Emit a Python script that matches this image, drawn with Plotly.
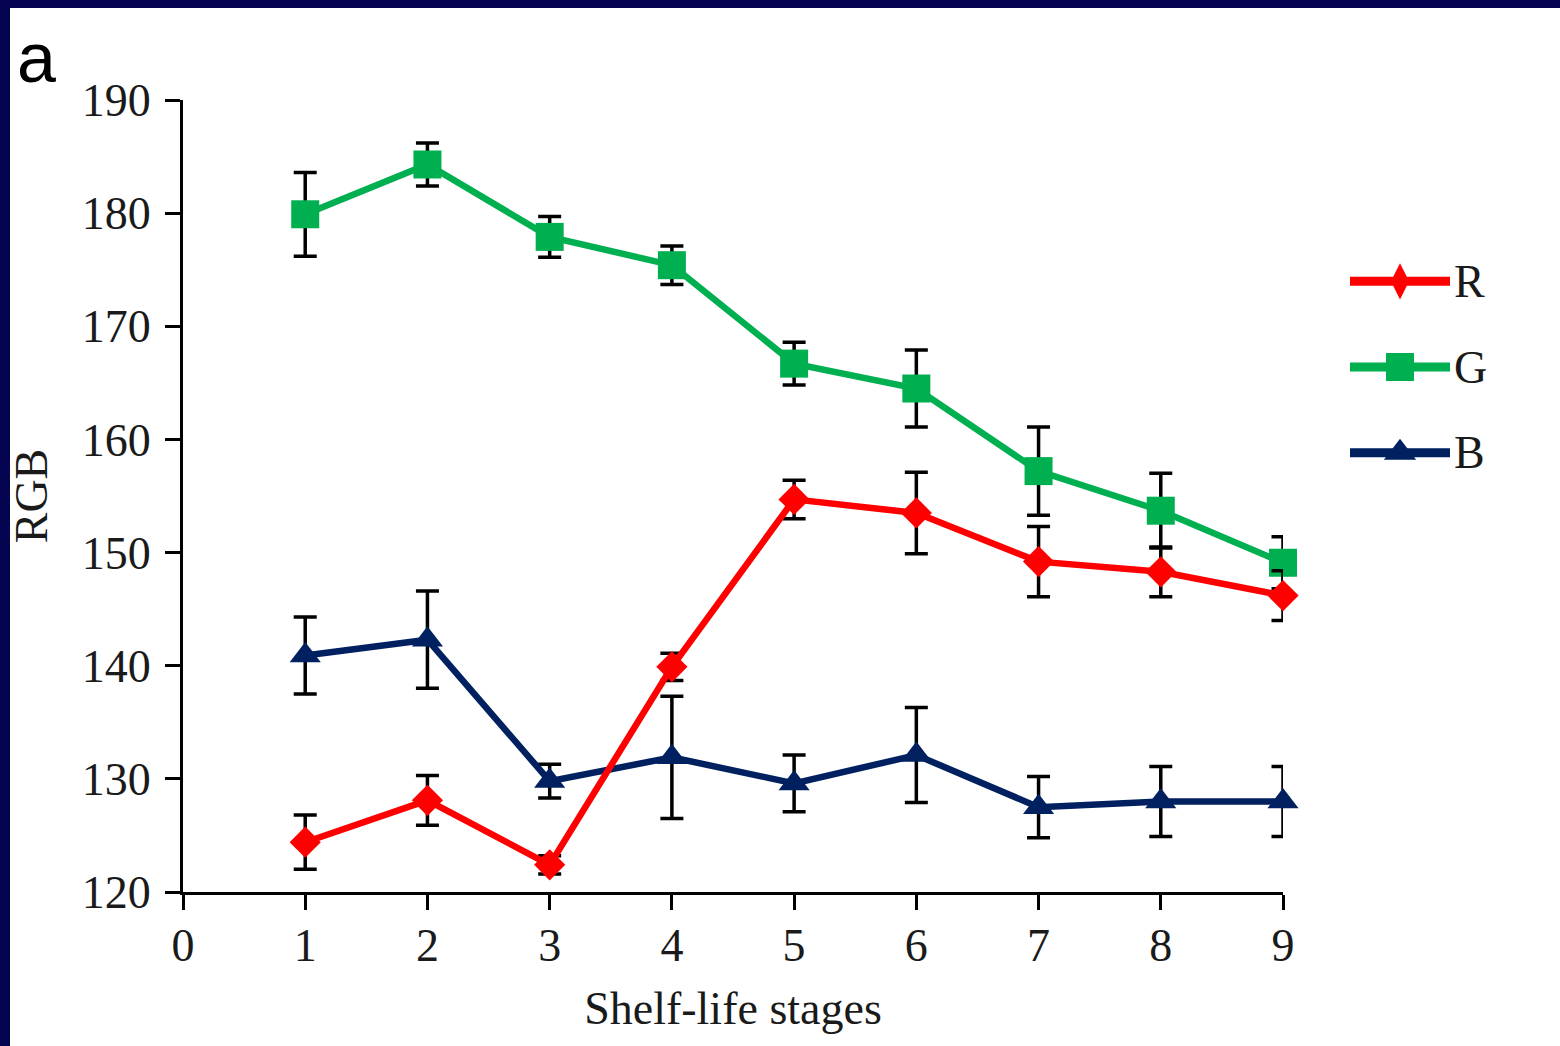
import plotly.graph_objects as go

# Shelf-life stage index and RGB channel means with their error margins
stages = [1, 2, 3, 4, 5, 6, 7, 8, 9]
r_vals = [124.4, 128.1, 122.4, 139.9, 154.7, 153.5, 149.2, 148.3, 146.2]
r_err = [2.4, 2.2, 0.8, 1.2, 1.7, 3.6, 3.1, 2.2, 2.2]
g_vals = [179.9, 184.3, 177.9, 175.4, 166.7, 164.5, 157.2, 153.7, 149.1]
g_err = [3.7, 1.9, 1.8, 1.7, 1.9, 3.4, 3.9, 3.3, 2.3]
b_vals = [140.9, 142.3, 129.8, 131.9, 129.6, 132.1, 127.5, 128.0, 128.0]
b_err = [3.4, 4.3, 1.5, 5.4, 2.5, 4.2, 2.7, 3.1, 3.1]

x_ticks = [0, 1, 2, 3, 4, 5, 6, 7, 8, 9]
y_ticks = [120, 130, 140, 150, 160, 170, 180, 190]

series_names = ["R", "G", "B"]
RED, GREEN, NAVY = "#FF0000", "#00B050", "#002060"
BORDER = "#040450"
SERIF = "Liberation Serif, Times New Roman, serif"
TXT = "#1a1a1a"

W, H = 1560, 1046

fig = go.Figure()


def channel(y, err, color, symbol, size):
    return go.Scatter(
        x=stages, y=y, mode="lines+markers",
        line=dict(color=color, width=6.5),
        marker=dict(color=color, symbol=symbol, size=size, line=dict(width=0)),
        error_y=dict(type="data", array=err, visible=True,
                     color="black", thickness=3.5, width=11.5),
        cliponaxis=False, showlegend=False,
    )


fig.add_trace(channel(b_vals, b_err, NAVY, "triangle-up", 27))
fig.add_trace(channel(g_vals, g_err, GREEN, "square", 28))
fig.add_trace(channel(r_vals, r_err, RED, "diamond", 24))

# Key drawn on its own hidden axes to the right of the plot
key_styles = [(RED, "diamond-tall", 26), (GREEN, "square", 28), (NAVY, "triangle-up", 28)]
for row, (name, (col, sym, sz)) in enumerate(zip(series_names, key_styles)):
    fig.add_trace(go.Scatter(
        x=[0, 1], y=[row, row], mode="lines", line=dict(color=col, width=9),
        xaxis="x2", yaxis="y2", showlegend=False, hoverinfo="skip", cliponaxis=False))
    fig.add_trace(go.Scatter(
        x=[0.5], y=[row], mode="markers",
        marker=dict(color=col, symbol=sym, size=sz, line=dict(width=0)),
        xaxis="x2", yaxis="y2", showlegend=False, hoverinfo="skip", cliponaxis=False))
    fig.add_annotation(x=1, y=row, xref="x2", yref="y2", text=name, showarrow=False,
                       xanchor="left", yanchor="middle", xshift=2,
                       font=dict(family=SERIF, size=46, color=TXT))

axis_common = dict(
    showline=True, linecolor="black", linewidth=3, mirror=False,
    ticks="outside", ticklen=15, tickwidth=3, tickcolor="black",
    showgrid=False, zeroline=False, automargin=False,
    tickfont=dict(family=SERIF, size=46, color=TXT),
)

fig.update_layout(
    width=W, height=H,
    margin=dict(l=0, r=0, t=0, b=0, autoexpand=False),
    paper_bgcolor="white", plot_bgcolor="white",
    xaxis=dict(
        domain=[183 / W, 1283 / W], range=[0, 9], tickmode="array",
        tickvals=x_ticks, ticktext=[str(v) for v in x_ticks],
        ticklabelstandoff=-4,
        title=dict(text="Shelf-life stages", font=dict(family=SERIF, size=46, color=TXT), standoff=22),
        anchor="y", **axis_common,
    ),
    yaxis=dict(
        domain=[154 / H, 946 / H], range=[120, 190], tickmode="array",
        tickvals=y_ticks, ticktext=[str(v) for v in y_ticks],
        ticklabelstandoff=5,
        title=dict(text="RGB", font=dict(family=SERIF, size=46, color=TXT), standoff=20),
        anchor="x", **axis_common,
    ),
    xaxis2=dict(domain=[1350 / W, 1450 / W], range=[0, 1], visible=False, anchor="y2"),
    yaxis2=dict(domain=[(H - 495.5) / H, (H - 238.5) / H], range=[2.5, -0.5],
                visible=False, anchor="x2"),
    shapes=[
        dict(type="rect", xref="paper", yref="paper", x0=0, x1=10 / W, y0=0, y1=1,
             fillcolor=BORDER, line=dict(width=0), layer="above"),
        dict(type="rect", xref="paper", yref="paper", x0=0, x1=1, y0=1 - 8 / H, y1=1,
             fillcolor=BORDER, line=dict(width=0), layer="above"),
    ],
)

fig.add_annotation(x=15 / W, y=1 - 58 / H, xref="paper", yref="paper", text="a",
                   showarrow=False, xanchor="left", yanchor="middle",
                   font=dict(family="Liberation Sans, Arial, sans-serif", size=70, color="black"))

fig.write_html("out.html")
